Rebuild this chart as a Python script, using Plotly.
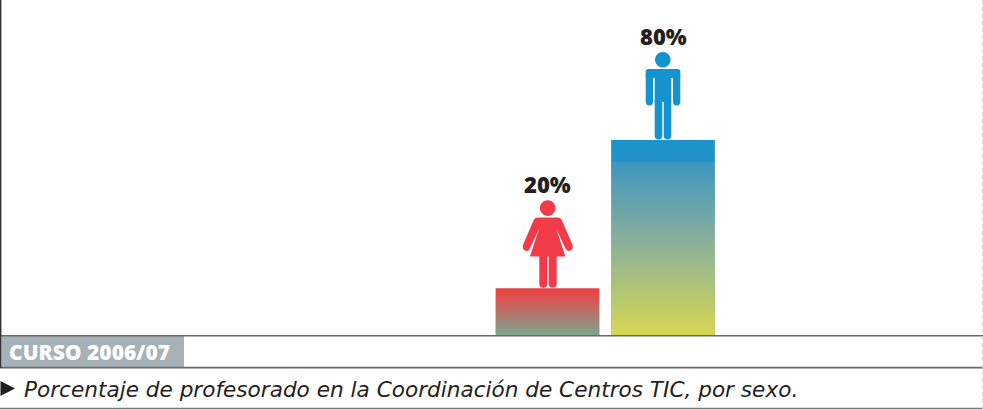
import plotly.graph_objects as go

categories = ["Mujeres", "Hombres"]
values = [20, 80]
labels = ["20%", "80%"]
title_tag = "CURSO 2006/07"
caption = "Porcentaje de profesorado en la Coordinación de Centros TIC, por sexo."
icon_colors = ["#F23B48", "#1593CE"]
bar_scales = [
    [[0, "#EF3B44"], [0.1, "#E8484A"], [1, "#7BA690"]],
    [[0, "#1C93CB"], [0.11, "#2193C8"], [0.115, "#3E96BE"], [0.5, "#86AE9E"], [0.97, "#D2D555"], [1, "#D2D555"]],
]

W, H = 983, 410
BASE_PX = 335.5
Y_LOW = 0.95
PX_PER_UNIT = 195.5 / (80 - Y_LOW)
Y_HIGH = Y_LOW + BASE_PX / PX_PER_UNIT
BAR_W = 0.896
X_PER_PX = 1 / 115.5
X0 = -547.5 * X_PER_PX
X1 = (W - 547.5) * X_PER_PX


def px(x):
    return x / W


def py(y):
    return 1 - y / H


def rrect(x0, y0, x1, y1, r):
    return (f"M{x0+r},{y0} L{x1-r},{y0} Q{x1},{y0} {x1},{y0+r} L{x1},{y1-r} Q{x1},{y1} {x1-r},{y1} "
            f"L{x0+r},{y1} Q{x0},{y1} {x0},{y1-r} L{x0},{y0+r} Q{x0},{y0} {x0+r},{y0} Z")


def circle(cx, cy, r):
    k = 0.5523 * r
    return (f"M{cx-r},{cy} C{cx-r},{cy+k} {cx-k},{cy+r} {cx},{cy+r} C{cx+k},{cy+r} {cx+r},{cy+k} {cx+r},{cy} "
            f"C{cx+r},{cy-k} {cx+k},{cy-r} {cx},{cy-r} C{cx-k},{cy-r} {cx-r},{cy-k} {cx-r},{cy} Z")


man = [
    circle(-0.2, 80.3, 7.8),
    rrect(-17.3, 62, 17.3, 71, 2.5),
    "M-8.3,38 L8.3,38 L8.3,66 L-8.3,66 Z",
    rrect(-8.3, 0.6, -0.7, 42, 3.6),
    rrect(0.7, 0.6, 8.3, 42, 3.6),
    rrect(-17.3, 34.6, -10, 68, 3.6),
    rrect(10, 34.6, 17.3, 68, 3.6),
]
woman = [
    circle(0.2, 80.3, 7.8),
    "M-17.5,32 L17.8,32 L8.6,60.5 L8.6,70 L-8.2,70 L-8.2,60.5 Z",
    rrect(-8.2, 0.7, -0.2, 36, 3.6),
    rrect(1.2, 0.7, 9.2, 36, 3.6),
    "M-10,71 L10.5,71 Q13.3,71 14.5,68 L25,43.5 Q26,39 22.5,37.6 Q19.5,37 18,40 L8.6,60 L-8.2,60 "
    "L-17.6,40 Q-19,37 -22,37.6 Q-25.5,39 -24.6,43.5 L-14,68 Q-12.8,71 -10,71 Z",
]
icons = [woman, man]

fig = go.Figure()
xs = list(range(len(categories)))
fig.add_trace(go.Bar(x=xs, y=values, width=BAR_W, marker=dict(color=["#B0705F", "#86AE9E"], line_width=0),
                     text=categories, textposition="none", hoverinfo="skip", showlegend=False))
for x, v, scale in zip(xs, values, bar_scales):
    fig.add_trace(go.Scatter(
        x=[x - BAR_W / 2, x + BAR_W / 2, x + BAR_W / 2, x - BAR_W / 2, x - BAR_W / 2],
        y=[Y_LOW, Y_LOW, v, v, Y_LOW], mode="lines", line=dict(width=0), fill="toself",
        fillgradient=dict(type="vertical", colorscale=scale, start=v, stop=Y_LOW),
        hoverinfo="skip", showlegend=False))

shapes = []
annotations = []
for x, v, parts, col, lab in zip(xs, values, icons, icon_colors, labels):
    for part in parts:
        shapes.append(dict(type="path", xsizemode="pixel", ysizemode="pixel", xref="x", yref="y",
                           xanchor=x, yanchor=v, path=part, fillcolor=col, line_width=0))
    annotations.append(dict(x=x, y=v, xref="x", yref="y", text=lab, showarrow=False, yshift=104,
                            font=dict(family="Open Sans", size=22, color="#231F20", weight=800)))


def hline(y, color="#6A6A6A", width=1.6):
    return dict(type="line", xref="paper", yref="paper", x0=0, x1=1, y0=py(y), y1=py(y),
                line=dict(color=color, width=width))


shapes += [
    dict(type="rect", xref="paper", yref="paper", x0=px(1.5), x1=px(184), y0=py(367), y1=py(336),
         fillcolor="#A7B1B8", line_width=0, layer="below"),
    hline(335.7), hline(367.6), hline(408.5, "#777777"),
    dict(type="line", xref="paper", yref="paper", x0=px(0.7), x1=px(0.7), y0=py(0), y1=py(368),
         line=dict(color="#333333", width=1.4)),
    dict(type="line", xref="paper", yref="paper", x0=px(982.5), x1=px(982.5), y0=py(0), y1=py(409),
         line=dict(color="#D5D5D5", width=1, dash="4px,3px")),
    dict(type="path", xref="paper", yref="paper",
         path=f"M{px(0.5)},{py(381)} L{px(15)},{py(388.5)} L{px(0.5)},{py(396)} Z",
         fillcolor="#231F20", line_width=0),
]
annotations += [
    dict(x=px(7), y=py(351.5), xref="paper", yref="paper", xanchor="left", yanchor="middle", text=title_tag,
         showarrow=False, font=dict(family="Open Sans", size=21, color="#FFFFFF", weight=800)),
    dict(x=px(22), y=py(389.5), xref="paper", yref="paper", xanchor="left", yanchor="middle",
         text=f"<i>{caption}</i>", showarrow=False,
         font=dict(family="DejaVu Sans", size=21.6, color="#231F20")),
]

fig.update_layout(
    width=W, height=H, margin=dict(l=0, r=0, t=0, b=0), paper_bgcolor="#FFFFFF", plot_bgcolor="#FFFFFF",
    showlegend=False, barmode="overlay", shapes=shapes, annotations=annotations,
    xaxis=dict(range=[X0, X1], visible=False, domain=[0, 1], fixedrange=True),
    yaxis=dict(range=[Y_LOW, Y_HIGH], visible=False, domain=[1 - BASE_PX / H, 1], fixedrange=True),
)
fig.write_html("out.html", config={"displayModeBar": False},
               post_script="document.body.style.margin='0';document.documentElement.style.overflow='hidden';")
